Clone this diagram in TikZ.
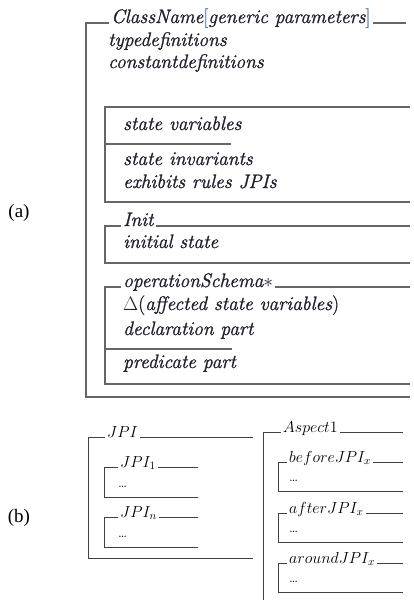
\RequirePackage{fix-cm}
\documentclass[tikz,border=0pt]{standalone}
\usepackage{fontspec}
\newfontfamily\labelfont{Liberation Serif}
\newfontfamily\schemafont{Latin Modern Roman}[FakeBold=1.2]
\usetikzlibrary{positioning}
\usetikzlibrary{calc}
\definecolor{schemaline}{rgb}{0.40,0.40,0.40}
\definecolor{schematext}{rgb}{0.12,0.12,0.18}
\definecolor{bracketcol}{rgb}{0.35,0.5,0.62}
\tikzset{
  zline/.style={draw=schemaline,line width=1.8pt},
  jline/.style={draw=black!75,line width=0.9pt},
  ztext/.style={anchor=base west,inner sep=2pt,text=schematext,font=\schemafont\fontsize{19.5}{23}\selectfont\itshape},
  jtext/.style={anchor=base west,inner sep=2pt,text=black,font=\fontsize{16}{19}\selectfont},
  jdots/.style={anchor=base west,inner sep=0pt,text=black,font=\fontsize{14}{16}\selectfont},
  partlabel/.style={font=\labelfont\fontsize{19}{22}\selectfont}
}

\begin{document}
\begin{tikzpicture}[x=1pt,y=-1pt]
  \useasboundingbox (0,0) rectangle (413,600);

  \node[partlabel] (la) at (19,213) {(a)};
  \node[partlabel] (lb) at (19,518) {(b)};

  \node[ztext] (cn) at (109,23) {ClassName{\upshape\color{bracketcol}[}generic parameters{\upshape\color{bracketcol}]}};
  \coordinate (cnr) at (406,23);
  \coordinate (otl) at (86,23);
  \coordinate (obl) at (86,397);
  \coordinate (obr) at (410,397);
  \draw[zline] (cn.base west) -- (otl) -- (obl) -- (obr);
  \draw[zline] (cn.base east) -- (cnr);
  \node[ztext] (td) at (106,46) {typedefinitions};
  \node[ztext] (cd) at (106,68) {constantdefinitions};

  \coordinate (stl) at (105,107);
  \coordinate (str) at (410,107);
  \coordinate (sbl) at (105,202);
  \coordinate (sbr) at (410,202);
  \coordinate (ssep) at (231,144);
  \draw[zline] (str) -- (stl) -- (sbl) -- (sbr);
  \draw[zline] (stl |- ssep) -- (ssep);
  \node[ztext] (sv) at (121,130) {state variables};
  \node[ztext] (si) at (121,165) {state invariants};
  \node[ztext] (er) at (121,188) {exhibits rules JPIs};

  \node[ztext] (init) at (121,226) {Init};
  \coordinate (itl) at (105,226);
  \coordinate (itr) at (410,226);
  \coordinate (ibl) at (105,263);
  \coordinate (ibr) at (410,263);
  \draw[zline] (init.base west) -- (itl) -- (ibl) -- (ibr);
  \draw[zline] (init.base east) -- (itr);
  \node[ztext] (is) at (121,248) {initial state};

  \node[ztext] (op) at (121,287) {operationSchema$*$};
  \coordinate (otl2) at (105,287);
  \coordinate (otr) at (410,287);
  \coordinate (obl2) at (105,384);
  \coordinate (obr2) at (410,384);
  \coordinate (osep) at (232,349);
  \draw[zline] (op.base west) -- (otl2) -- (obl2) -- (obr2);
  \draw[zline] (op.base east) -- (otr);
  \draw[zline] (otl2 |- osep) -- (osep);
  \node[ztext] (de) at (121,310) {{\upshape$\Delta$(}affected state variables{\upshape)}};
  \node[ztext] (dp) at (121,335) {declaration part};
  \node[ztext] (pp) at (121,368) {predicate part};

  \node[jtext] (jpi) at (105,437) {$JPI$};
  \coordinate (jtl) at (88,437);
  \coordinate (jtr) at (253,437);
  \coordinate (jbl) at (88,558);
  \coordinate (jbr) at (253,558);
  \draw[jline] (jpi.base west) -- (jtl) -- (jbl) -- (jbr);
  \draw[jline] (jpi.base east) -- (jtr);
  \foreach \i/\y in {1/467, n/517} {
    \node[jtext] (jpi\i) at (118,\y) {$JPI_{\i}$};
    \coordinate (jpi\i-tl) at (104,\y);
    \coordinate (jpi\i-tr) at (198,\y);
    \coordinate (jpi\i-bl) at (104,\y+30);
    \coordinate (jpi\i-br) at (198,\y+30);
    \draw[jline] (jpi\i.base west) -- (jpi\i-tl) -- (jpi\i-bl) -- (jpi\i-br);
    \draw[jline] (jpi\i.base east) -- (jpi\i-tr);
    \node[jdots] (jpi\i-dots) at (118,\y+20) {\ldots};
  }

  \node[jtext] (asp) at (281,432) {$Aspect1$};
  \coordinate (atl) at (263,432);
  \coordinate (atr) at (403,432);
  \coordinate (abl) at (263,600);
  \draw[jline] (asp.base west) -- (atl) -- (abl);
  \draw[jline] (asp.base east) -- (atr);
  \foreach \name/\y in {before/462, after/513, around/563} {
    \node[jtext] (\name) at (287,\y) {$\name JPI_x$};
    \coordinate (\name-tl) at (278,\y);
    \coordinate (\name-tr) at (403,\y);
    \coordinate (\name-bl) at (278,\y+29);
    \coordinate (\name-br) at (403,\y+29);
    \draw[jline] (\name.base west) -- (\name-tl) -- (\name-bl) -- (\name-br);
    \draw[jline] (\name.base east) -- (\name-tr);
    \node[jdots] (\name-dots) at (289,\y+19) {\ldots};
  }
\end{tikzpicture}
\end{document}
